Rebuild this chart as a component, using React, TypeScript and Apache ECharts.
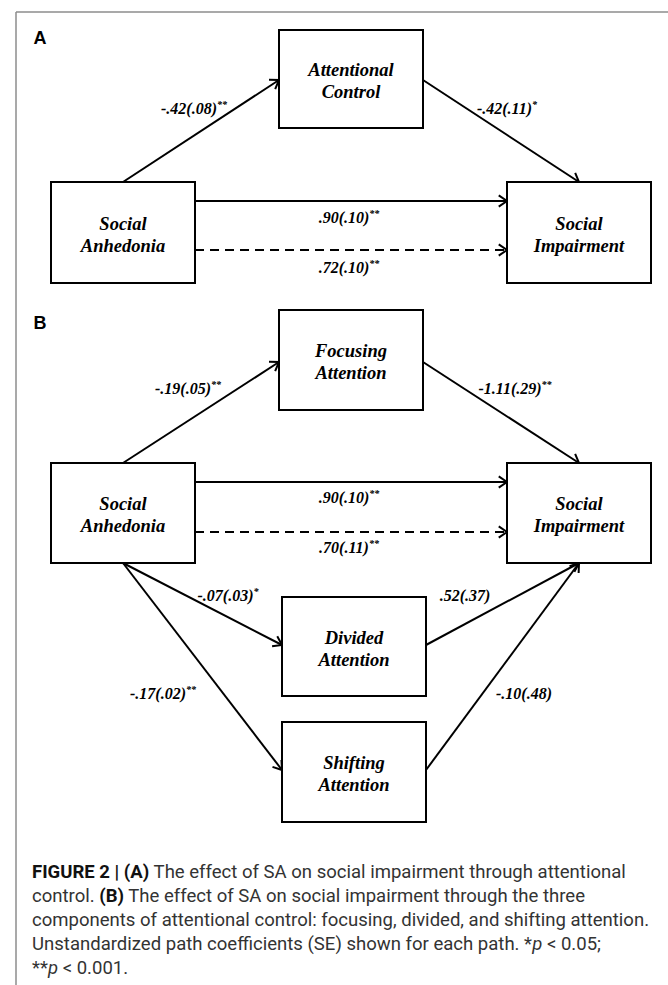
import React, { useEffect, useRef } from "react";
import * as echarts from "echarts";

// ---- Diagram data ----
const panelLetters = ["A", "B"];
const panelLetterPos = [
  [40, 38],
  [40, 323],
];

const nodeLabels = [
  "Social\nAnhedonia",
  "Attentional\nControl",
  "Social\nImpairment",
  "Social\nAnhedonia",
  "Focusing\nAttention",
  "Social\nImpairment",
  "Divided\nAttention",
  "Shifting\nAttention",
];
// x, y, width, height
const nodeBoxes = [
  [51, 182, 144, 101],
  [279, 30, 144, 98],
  [507, 182, 144, 101],
  [51, 463, 144, 100],
  [279, 310, 144, 100],
  [507, 463, 144, 100],
  [282, 597, 144, 99],
  [282, 722, 144, 100],
];

const pathCoefficients = [
  "-.42(.08)",
  "-.42(.11)",
  ".90(.10)",
  ".72(.10)",
  "-.19(.05)",
  "-1.11(.29)",
  ".90(.10)",
  ".70(.11)",
  "-.07(.03)",
  ".52(.37)",
  "-.17(.02)",
  "-.10(.48)",
];
const pathStars = ["**", "*", "**", "**", "**", "**", "**", "**", "*", "", "**", ""];
const pathDashed = [false, false, false, true, false, false, false, true, false, false, false, false];
// x1, y1, x2, y2 (arrow at x2,y2)
const pathEnds = [
  [123, 182, 279, 80],
  [423, 80, 579, 182],
  [195, 201, 507, 201],
  [195, 250, 507, 250],
  [123, 463, 279, 362],
  [423, 362, 579, 463],
  [195, 482, 507, 482],
  [195, 532, 507, 532],
  [123, 563, 282, 645],
  [426, 645, 579, 563],
  [123, 563, 282, 770],
  [426, 770, 579, 563],
];
const labelAnchors = [
  [194, 108],
  [507, 108],
  [349, 217],
  [349, 267],
  [188, 388],
  [515, 388],
  [349, 497],
  [349, 547],
  [228, 595],
  [465, 595],
  [163, 693],
  [524, 693],
];

const captionLines = [
  "{b|FIGURE 2 | (A)}{r| The effect of SA on social impairment through attentional}",
  "{r|control. }{b|(B)}{r| The effect of SA on social impairment through the three}",
  "{r|components of attentional control: focusing, divided, and shifting attention.}",
  "{r|Unstandardized path coefficients (SE) shown for each path. *}{i|p}{r| < 0.05;}",
  "{r|**}{i|p}{r| < 0.001.}",
];
const captionTop = 872;
const captionStep = 24;

const SERIF = '"Liberation Serif", "Times New Roman", serif';
const SANS = 'Roboto, "Liberation Sans", sans-serif';

function buildGraphics() {
  const els: any[] = [];
  // frame
  els.push({
    type: "line",
    shape: { x1: 16, y1: 12, x2: 668, y2: 12 },
    style: { stroke: "#8c8c8c", lineWidth: 1.5 },
  });
  els.push({
    type: "line",
    shape: { x1: 16, y1: 12, x2: 16, y2: 985 },
    style: { stroke: "#8c8c8c", lineWidth: 1.5 },
  });

  panelLetters.forEach((t, i) => {
    els.push({
      type: "text",
      x: panelLetterPos[i][0],
      y: panelLetterPos[i][1],
      style: {
        text: t,
        fontFamily: '"Liberation Sans", Arial, sans-serif',
        fontWeight: "bold",
        fontSize: 18,
        fill: "#000",
        align: "center",
        verticalAlign: "middle",
      },
    });
  });

  // paths
  pathEnds.forEach((p, i) => {
    const [x1, y1, x2, y2] = p;
    els.push({
      type: "line",
      shape: { x1, y1, x2, y2 },
      style: {
        stroke: "#000",
        lineWidth: 2,
        lineDash: pathDashed[i] ? [9, 6] : null,
      },
    });
    const ang = Math.atan2(y2 - y1, x2 - x1);
    const len = 10;
    const spread = 0.6;
    const a1 = ang + Math.PI - spread;
    const a2 = ang + Math.PI + spread;
    els.push({
      type: "polyline",
      shape: {
        points: [
          [x2 + len * Math.cos(a1), y2 + len * Math.sin(a1)],
          [x2, y2],
          [x2 + len * Math.cos(a2), y2 + len * Math.sin(a2)],
        ],
      },
      style: { stroke: "#000", lineWidth: 2, fill: null },
    });
  });

  // boxes
  nodeBoxes.forEach((b, i) => {
    const [x, y, w, h] = b;
    els.push({
      type: "rect",
      shape: { x, y, width: w, height: h },
      style: { fill: "#fff", stroke: "#000", lineWidth: 2 },
    });
    els.push({
      type: "text",
      x: x + w / 2,
      y: y + h / 2 + 2,
      style: {
        text: nodeLabels[i],
        fontFamily: SERIF,
        fontStyle: "italic",
        fontWeight: "bold",
        fontSize: 18.5,
        lineHeight: 22,
        fill: "#000",
        align: "center",
        verticalAlign: "middle",
      },
    });
  });

  // path labels
  pathCoefficients.forEach((c, i) => {
    const txt = pathStars[i] ? `{m|${c}}{s|${pathStars[i]}}` : `{m|${c}}`;
    els.push({
      type: "text",
      x: labelAnchors[i][0],
      y: labelAnchors[i][1],
      style: {
        text: txt,
        align: "center",
        verticalAlign: "middle",
        fill: "#000",
        rich: {
          m: {
            fontFamily: SERIF,
            fontStyle: "italic",
            fontWeight: "bold",
            fontSize: 16,
            lineHeight: 18,
            fill: "#000",
          },
          s: {
            fontFamily: SERIF,
            fontStyle: "italic",
            fontWeight: "bold",
            fontSize: 10,
            lineHeight: 10,
            verticalAlign: "top",
            fill: "#000",
          },
        },
      },
    });
  });

  // caption
  captionLines.forEach((line, i) => {
    els.push({
      type: "text",
      x: 32,
      y: captionTop + i * captionStep,
      scaleX: 1.03,
      style: {
        text: line,
        align: "left",
        verticalAlign: "middle",
        fill: "#222",
        rich: {
          b: { fontFamily: SANS, fontWeight: "bold", fontSize: 18, fill: "#111" },
          r: { fontFamily: SANS, fontWeight: "normal", fontSize: 18, fill: "#333" },
          i: { fontFamily: SANS, fontStyle: "italic", fontSize: 18, fill: "#333" },
        },
      },
    });
  });
  return els;
}

export default function App() {
  const ref = useRef<HTMLDivElement>(null);
  useEffect(() => {
    document.body.style.margin = "0";
    if (!ref.current) return;
    const chart = echarts.init(ref.current, null, { renderer: "svg" });
    chart.setOption({
      animation: false,
      backgroundColor: "#fff",
      graphic: { elements: buildGraphics() },
    });
    return () => chart.dispose();
  }, []);
  return <div ref={ref} style={{ width: 668, height: 985 }} />;
}
